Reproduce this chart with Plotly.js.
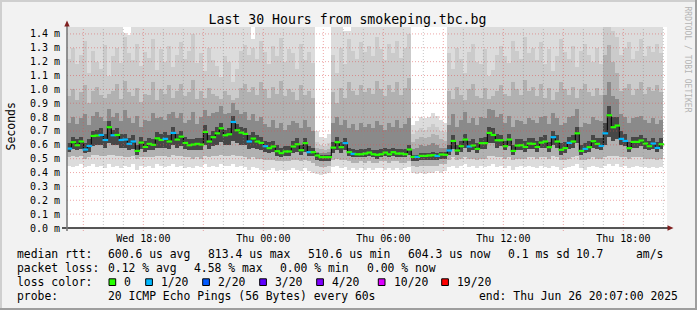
<!DOCTYPE html>
<html><head><meta charset="utf-8">
<script src="https://cdn.plot.ly/plotly-3.0.1.min.js"></script>
<style>html,body{margin:0;padding:0;background:#f2f2f2}#chart{width:697px;height:310px}</style>
</head><body><div id="chart"></div>
<script>
// ---- data (12-minute consolidated columns, ms) ----
const columnStart = '2025-06-25T14:12:00Z';
const columnMinutes = 12;
const median = [
0.573,0.619,0.597,0.624,0.566,0.592,0.664,0.667,0.671,0.635,
0.727,0.669,0.671,0.635,0.638,0.607,0.624,0.556,0.616,0.585,
0.607,0.600,0.647,0.635,0.643,0.624,0.686,0.638,0.659,0.614,
0.597,0.602,0.607,0.602,0.693,0.624,0.655,0.683,0.719,0.669,
0.676,0.765,0.705,0.688,0.679,0.624,0.645,0.624,0.614,0.590,
0.576,0.588,0.554,0.540,0.552,0.552,0.588,0.604,0.561,0.612,
0.547,0.547,0.523,0.511,0.511,0.511,0.580,0.619,0.583,0.612,
0.547,0.535,0.532,0.532,0.537,0.544,0.532,0.528,0.532,0.544,
0.532,0.547,0.537,0.537,0.532,0.566,0.513,0.513,0.520,0.520,
0.523,0.525,0.520,0.530,0.528,0.559,0.628,0.559,0.590,0.638,
0.588,0.595,0.571,0.612,0.612,0.686,0.671,0.633,0.633,0.590,
0.638,0.556,0.595,0.597,0.585,0.609,0.607,0.585,0.616,0.624,
0.583,0.655,0.624,0.564,0.576,0.614,0.624,0.683,0.556,0.571,
0.583,0.626,0.607,0.592,0.683,0.813,0.727,0.739,0.643,0.628,
0.576,0.621,0.621,0.631,0.609,0.590,0.609,0.578,0.604];
const lossClass = [
1,0,0,0,1,1,0,0,1,1, 0,1,0,1,1,1,1,0,0,0, 0,0,0,0,1,0,1,0,0,0, 0,0,0,0,0,0,0,0,0,0,
0,1,0,0,0,1,0,0,0,1, 0,0,0,0,0,0,0,0,0,0, 1,0,0,0,0,0,0,0,0,1, 0,1,0,0,0,0,0,0,0,0,
0,0,0,0,0,0,0,1,0,0, 0,0,1,0,0,1,0,0,0,0, 1,0,0,0,0,0,0,0,0,0, 0,0,0,0,0,0,0,0,0,0,
0,1,0,0,0,1,0,0,0,1, 0,0,0,1,1,0,0,0,1,1, 0,0,0,0,0,0,1,1,0];
const pingMax = [
1.5,1.5,1.5,1.5,1.5,1.5,1.5,1.5,1.5,1.5, 1.5,1.5,1.5,1.5,1.41,1.39,1.5,1.5,1.5,1.5,
1.5,1.5,1.5,1.5,1.5,1.5,1.5,1.5,1.5,1.5, 1.5,1.5,1.5,1.5,1.5,1.5,1.5,1.5,1.5,1.5,
1.5,1.5,1.5,1.5,1.5,1.5,1.36,1.5,1.5,1.5, 1.5,1.5,1.5,1.5,1.5,1.5,1.5,1.5,1.5,1.5,
1.5,1.5,0.70,0.66,0.65,0.68,1.5,1.5,1.5,1.42, 1.42,1.5,1.5,1.5,1.5,1.5,1.5,1.5,1.5,1.5,
1.5,1.5,1.5,1.5,1.5,1.5,0.74,0.77,0.80,0.79, 0.80,0.83,0.81,0.78,0.76,1.5,1.5,1.5,1.5,1.5,
1.5,1.5,1.5,1.5,1.5,1.5,1.5,1.5,1.5,1.5, 1.5,1.5,1.5,1.5,1.5,1.5,1.5,1.5,1.5,1.5,
1.5,1.5,1.5,1.5,1.5,1.5,1.5,1.5,1.5,1.5, 1.5,1.5,1.5,1.5,1.5,1.5,1.5,1.5,1.5,1.5,
1.5,1.5,1.5,1.5,1.5,1.5,1.5,1.5,1.5];
const ping18 = [
1.22,1.30,1.18,1.25,1.35,1.12,1.28,1.20,1.15,1.32, 1.10,1.24,1.30,1.19,1.38,1.26,1.21,1.33,1.17,1.27,
1.23,1.36,1.14,1.29,1.20,1.31,1.16,1.25,1.34,1.22, 1.28,1.40,1.19,1.26,1.13,1.30,1.21,1.17,1.09,1.24,
1.20,1.05,1.15,1.28,1.32,1.25,1.30,1.22,1.35,1.27, 1.18,1.31,1.24,1.37,1.20,1.29,1.26,1.15,1.33,1.21,
1.27,1.19,0.62,0.60,0.59,0.61,1.25,1.12,1.30,1.18, 1.36,1.28,1.22,1.34,1.27,1.31,1.24,1.38,1.29,1.21,
1.33,1.26,1.35,1.23,1.30,1.40,0.68,0.70,0.72,0.71, 0.73,0.75,0.73,0.70,0.69,1.26,1.15,1.30,1.22,1.12,
1.27,1.33,1.20,1.18,1.29,1.10,1.14,1.25,1.31,1.24, 1.19,1.35,1.28,1.22,1.38,1.26,1.30,1.21,1.34,1.18,
1.29,1.13,1.24,1.36,1.27,1.22,1.31,1.16,1.28,1.33, 1.25,1.20,1.30,1.18,1.45,1.50,1.42,1.38,1.25,1.30,
1.34,1.22,1.28,1.36,1.24,1.31,1.27,1.33,1.26];
const ping16 = [
0.95,1.00,0.92,0.98,1.03,0.90,0.99,1.02,0.96,0.94, 0.97,0.99,1.04,0.93,1.06,0.98,0.95,1.01,0.91,0.97,
0.96,1.05,0.92,1.00,0.97,1.03,0.94,0.99,1.04,0.95, 0.98,1.07,0.93,0.99,0.94,1.01,0.97,0.95,0.93,0.99,
0.96,0.92,0.94,1.01,1.04,0.98,1.02,0.96,1.05,1.00, 0.94,1.02,0.97,1.06,0.95,1.00,0.98,0.92,1.03,0.96,
0.99,0.94,0.58,0.57,0.56,0.57,0.98,0.90,1.01,0.94, 1.05,0.99,0.96,1.03,0.98,1.01,0.97,1.06,1.00,0.95,
1.03,0.98,1.05,0.96,1.01,1.08,0.62,0.64,0.66,0.65, 0.66,0.68,0.67,0.64,0.63,0.99,0.93,1.02,0.96,0.92,
1.00,1.04,0.95,0.94,1.01,0.93,0.95,0.99,1.03,0.97, 0.95,1.05,1.00,0.96,1.07,0.99,1.02,0.95,1.04,0.94,
1.01,0.92,0.98,1.05,1.00,0.96,1.02,0.94,1.00,1.04, 0.98,0.95,1.01,0.96,1.25,1.32,1.20,1.12,0.99,1.01,
1.04,0.96,1.00,1.05,0.97,1.02,0.99,1.03,0.98];
const ping14 = [
0.76,0.80,0.75,0.79,0.82,0.74,0.81,0.84,0.80,0.77, 0.86,0.80,0.83,0.77,0.85,0.79,0.76,0.81,0.73,0.78,
0.77,0.83,0.79,0.80,0.78,0.82,0.84,0.79,0.83,0.76, 0.78,0.84,0.75,0.80,0.85,0.81,0.83,0.84,0.88,0.82,
0.83,0.90,0.85,0.82,0.84,0.78,0.82,0.77,0.80,0.75, 0.73,0.78,0.72,0.76,0.71,0.74,0.77,0.76,0.72,0.78,
0.73,0.70,0.55,0.54,0.54,0.55,0.76,0.80,0.74,0.78, 0.72,0.75,0.71,0.76,0.73,0.75,0.72,0.77,0.74,0.71,
0.76,0.73,0.78,0.72,0.75,0.79,0.57,0.58,0.60,0.59, 0.60,0.61,0.60,0.58,0.58,0.74,0.82,0.73,0.78,0.84,
0.76,0.79,0.74,0.80,0.79,0.86,0.85,0.80,0.82,0.76, 0.81,0.73,0.78,0.77,0.75,0.79,0.78,0.76,0.80,0.81,
0.75,0.83,0.79,0.74,0.76,0.80,0.81,0.86,0.73,0.76, 0.75,0.80,0.78,0.77,0.96,1.05,0.95,0.93,0.82,0.80,
0.76,0.79,0.80,0.81,0.78,0.76,0.79,0.75,0.78];
const ping12 = [
0.61,0.66,0.64,0.66,0.61,0.64,0.70,0.71,0.72,0.68, 0.77,0.71,0.72,0.68,0.68,0.65,0.67,0.60,0.66,0.63,
0.65,0.64,0.69,0.68,0.69,0.67,0.73,0.68,0.70,0.66, 0.64,0.64,0.65,0.65,0.74,0.67,0.70,0.73,0.76,0.71,
0.72,0.81,0.75,0.73,0.72,0.67,0.69,0.67,0.66,0.63, 0.62,0.63,0.60,0.58,0.59,0.59,0.63,0.65,0.60,0.65,
0.59,0.58,0.54,0.53,0.53,0.53,0.62,0.66,0.62,0.65, 0.58,0.57,0.56,0.57,0.57,0.58,0.56,0.56,0.57,0.58,
0.57,0.58,0.57,0.57,0.57,0.60,0.53,0.53,0.54,0.54, 0.54,0.55,0.54,0.55,0.55,0.60,0.67,0.60,0.63,0.68,
0.63,0.64,0.61,0.65,0.66,0.73,0.72,0.68,0.67,0.63, 0.68,0.60,0.64,0.64,0.63,0.65,0.65,0.63,0.66,0.67,
0.62,0.70,0.67,0.61,0.62,0.66,0.67,0.73,0.60,0.61, 0.63,0.67,0.65,0.65,0.76,0.88,0.80,0.80,0.70,0.68,
0.62,0.66,0.66,0.67,0.65,0.63,0.65,0.62,0.65];
const ping9 = [
0.55,0.57,0.56,0.57,0.54,0.55,0.59,0.60,0.60,0.58, 0.61,0.60,0.60,0.58,0.58,0.56,0.57,0.53,0.57,0.55,
0.56,0.56,0.58,0.58,0.58,0.57,0.60,0.58,0.59,0.57, 0.56,0.56,0.56,0.56,0.60,0.57,0.59,0.60,0.62,0.60,
0.60,0.63,0.61,0.60,0.60,0.57,0.58,0.57,0.56,0.55, 0.54,0.55,0.52,0.51,0.52,0.52,0.54,0.55,0.53,0.55,
0.52,0.52,0.49,0.48,0.48,0.48,0.54,0.56,0.54,0.56, 0.52,0.51,0.51,0.51,0.51,0.52,0.51,0.50,0.51,0.52,
0.51,0.52,0.51,0.51,0.51,0.53,0.48,0.48,0.49,0.49, 0.49,0.49,0.49,0.50,0.50,0.53,0.57,0.53,0.55,0.58,
0.55,0.56,0.54,0.57,0.57,0.61,0.61,0.58,0.59,0.56, 0.59,0.53,0.56,0.56,0.55,0.57,0.57,0.55,0.58,0.58,
0.55,0.60,0.58,0.53,0.54,0.57,0.58,0.61,0.53,0.54, 0.55,0.58,0.57,0.56,0.60,0.66,0.63,0.64,0.60,0.59,
0.55,0.58,0.58,0.59,0.57,0.56,0.57,0.55,0.57];
const ping5 = [
0.51,0.52,0.51,0.52,0.50,0.51,0.53,0.53,0.52,0.52, 0.53,0.53,0.52,0.52,0.51,0.51,0.52,0.50,0.51,0.51,
0.51,0.51,0.52,0.52,0.52,0.51,0.53,0.52,0.52,0.51, 0.51,0.50,0.51,0.50,0.52,0.51,0.52,0.52,0.53,0.52,
0.52,0.53,0.52,0.52,0.51,0.50,0.51,0.50,0.50,0.49, 0.49,0.49,0.48,0.48,0.48,0.48,0.49,0.49,0.48,0.49,
0.48,0.47,0.45,0.44,0.44,0.45,0.49,0.50,0.49,0.49, 0.48,0.47,0.47,0.48,0.47,0.48,0.47,0.47,0.48,0.48,
0.47,0.48,0.48,0.47,0.47,0.48,0.45,0.44,0.45,0.45, 0.45,0.45,0.45,0.46,0.46,0.49,0.51,0.49,0.50,0.51,
0.50,0.50,0.49,0.50,0.50,0.52,0.52,0.51,0.51,0.50, 0.51,0.49,0.50,0.50,0.50,0.51,0.51,0.50,0.51,0.51,
0.50,0.52,0.51,0.49,0.49,0.50,0.51,0.52,0.49,0.49, 0.50,0.51,0.50,0.50,0.51,0.52,0.52,0.52,0.51,0.51,
0.50,0.51,0.51,0.51,0.50,0.50,0.50,0.49,0.50];
const pingMin = [
0.45,0.44,0.45,0.46,0.44,0.45,0.46,0.44,0.45,0.43, 0.46,0.44,0.45,0.43,0.45,0.44,0.46,0.42,0.45,0.44,
0.45,0.43,0.46,0.45,0.44,0.45,0.46,0.44,0.45,0.43, 0.44,0.43,0.45,0.44,0.46,0.44,0.45,0.44,0.46,0.45,
0.45,0.46,0.44,0.45,0.44,0.42,0.44,0.43,0.42,0.41, 0.42,0.43,0.41,0.42,0.41,0.42,0.43,0.42,0.41,0.43,
0.41,0.40,0.39,0.38,0.39,0.40,0.44,0.45,0.43,0.44, 0.42,0.43,0.42,0.43,0.42,0.43,0.42,0.43,0.43,0.42,
0.43,0.42,0.43,0.42,0.43,0.44,0.40,0.39,0.40,0.39, 0.40,0.40,0.41,0.40,0.41,0.44,0.45,0.43,0.45,0.46,
0.44,0.45,0.43,0.45,0.44,0.45,0.46,0.44,0.45,0.43, 0.45,0.42,0.44,0.45,0.44,0.45,0.44,0.43,0.45,0.44,
0.43,0.45,0.44,0.42,0.43,0.44,0.45,0.46,0.43,0.42, 0.44,0.45,0.44,0.43,0.45,0.46,0.45,0.46,0.44,0.45,
0.43,0.44,0.45,0.44,0.44,0.43,0.44,0.43,0.44];

const yTickVals = [0.0,0.1,0.2,0.3,0.4,0.5,0.6,0.7,0.8,0.9,1.0,1.1,1.2,1.3,1.4];
const yTickText = ['0.0 m','0.1 m','0.2 m','0.3 m','0.4 m','0.5 m','0.6 m','0.7 m','0.8 m','0.9 m','1.0 m','1.1 m','1.2 m','1.3 m','1.4 m'];
const xTickVals = ['2025-06-25 18:00','2025-06-26 00:00','2025-06-26 06:00','2025-06-26 12:00','2025-06-26 18:00'];
const xTickText = ['Wed 18:00','Thu 00:00','Thu 06:00','Thu 12:00','Thu 18:00'];
const lossColors = ['#26ff00','#00b8ff','#0059ff','#5e00ff','#7e00ff','#dd00ff','#ff0000'];
const lossLabels = ['0','1/20','2/20','3/20','4/20','10/20','19/20'];

// ---- geometry helpers ----
const L = 67, R = 667, TOP = 27, BOT = 228;
const px = x => (x - L) / (R - L);
const py = y => (BOT - y) / (BOT - TOP);
const ds = ms => new Date(ms).toISOString().replace('T',' ').replace('Z','');
const t0 = Date.parse(columnStart), stepMs = columnMinutes * 60000;
const xc = median.map((_, k) => ds(t0 + k * stepMs + stepMs / 2));
const xRange = [ds(Date.parse('2025-06-25T14:11:00Z')), ds(Date.parse('2025-06-26T20:11:00Z'))];

const mono = 'DejaVu Sans Mono';
const bands = [
  {lo: pingMin, hi: pingMax, color: '#dcdcdc'},
  {lo: ping5, hi: ping18, color: '#cbcbcb'},
  {lo: ping5, hi: ping16, color: '#b1b1b1'},
  {lo: ping9, hi: ping14, color: '#8a8a8a'},
  {lo: ping9, hi: ping12, color: '#474747'}
];
const traces = bands.map(b => ({
  type: 'bar', x: xc, base: b.lo, y: b.hi.map((h, i) => h - b.lo[i]),
  width: stepMs, marker: {color: b.color, line: {width: 0}}, hoverinfo: 'skip'
}));
traces.push({type: 'scatter', mode: 'lines', x: xc, y: median,
  line: {shape: 'hvh', color: '#000000', width: 1}, hoverinfo: 'skip'});
traces.push({type: 'scatter', mode: 'markers', x: xc, y: median,
  marker: {symbol: 'line-ew', size: 4, line: {width: 2.2, color: lossClass.map(c => lossColors[c])}},
  hoverinfo: 'skip'});

// ---- grid & decorations ----
const shapes = [];
const MGRID = 'rgba(222,79,79,0.5)', GRID = 'rgba(143,143,143,0.5)';
yTickVals.forEach(v => { if (v > 0) shapes.push({type:'line', layer:'above', xref:'paper', yref:'y', x0:0, x1:0.997, y0:v, y1:v, line:{color:MGRID, width:1, dash:'1px,2px'}}); });
for (let h = Date.parse('2025-06-25T15:00:00Z'); h <= Date.parse('2025-06-26T20:00:00Z'); h += 3600000) {
  const major = new Date(h).getUTCHours() % 3 === 0;
  shapes.push({type:'line', layer:'above', xref:'x', yref:'paper', x0:ds(h), x1:ds(h), y0: major ? py(231) : 0, y1:1,
    line:{color: major ? MGRID : GRID, width:1, dash:'1px,2px'}});
}
// axes
shapes.push({type:'line', layer:'above', xref:'paper', yref:'paper', x0:px(62), x1:px(668), y0:0, y1:0, line:{color:'#1f1f1f', width:1.3}});
shapes.push({type:'line', layer:'above', xref:'paper', yref:'paper', x0:0, x1:0, y0:py(231), y1:py(23), line:{color:'#7a7a7a', width:1.6}});
const ARROW = '#7f1f1f';
shapes.push({type:'path', layer:'above', xref:'paper', yref:'paper', fillcolor:ARROW, line:{width:0},
  path:`M ${px(64.3)} ${py(26.5)} L ${px(67)} ${py(20.5)} L ${px(69.7)} ${py(26.5)} Z`});
shapes.push({type:'path', layer:'above', xref:'paper', yref:'paper', fillcolor:ARROW, line:{width:0},
  path:`M ${px(667.5)} ${py(225.3)} L ${px(673.5)} ${py(228)} L ${px(667.5)} ${py(230.7)} Z`});
// frame (shade A top/left, shade B bottom/right)
shapes.push({type:'rect', xref:'paper', yref:'paper', x0:px(0), x1:px(697), y0:py(0), y1:py(2), fillcolor:'#cfcfcf', line:{width:0}});
shapes.push({type:'rect', xref:'paper', yref:'paper', x0:px(0), x1:px(2), y0:py(0), y1:py(310), fillcolor:'#cfcfcf', line:{width:0}});
shapes.push({type:'rect', xref:'paper', yref:'paper', x0:px(0), x1:px(697), y0:py(308), y1:py(310), fillcolor:'#9e9e9e', line:{width:0}});
shapes.push({type:'rect', xref:'paper', yref:'paper', x0:px(695), x1:px(697), y0:py(0), y1:py(310), fillcolor:'#9e9e9e', line:{width:0}});

// legend boxes
const boxX = [109, 145.7, 202.7, 259.7, 316.7, 378.3, 441.7];
const labX = [123.3, 160, 217.3, 274, 331, 392.6, 456];
boxX.forEach((x, i) => shapes.push({type:'rect', xref:'paper', yref:'paper', x0:px(x), x1:px(x+6.7), y0:py(285.5), y1:py(278.8),
  fillcolor: lossColors[i], line:{color:'#000', width:1}}));

const ann = [];
const txt = (x, y, s, extra) => ann.push(Object.assign({xref:'paper', yref:'paper', x:px(x), y:py(y), text:s, showarrow:false,
  xanchor:'left', yanchor:'middle', borderpad:0, font:{family:mono, size:11.4, color:'#000'}}, extra || {}));
txt(16, 254.3, 'median rtt:'); txt(107.3, 254.3, '600.6 us avg'); txt(207.3, 254.3, '813.4 us max');
txt(306.7, 254.3, '510.6 us min'); txt(407.3, 254.3, '604.3 us now'); txt(507.3, 254.3, '0.1 ms sd');
txt(574.5, 254.3, '10.7'); txt(635, 254.3, 'am/s');
txt(16, 268.3, 'packet loss:'); txt(107.3, 268.3, '0.12 % avg'); txt(192.7, 268.3, '4.58 % max');
txt(279.3, 268.3, '0.00 % min'); txt(366, 268.3, '0.00 % now');
txt(16, 282.3, 'loss color:');
lossLabels.forEach((s, i) => txt(labX[i], 282.3, s));
txt(16, 296, 'probe:'); txt(107.3, 296, '20 ICMP Echo Pings (56 Bytes) every 60s');
txt(478.3, 296, 'end: Thu Jun 26 20:07:00 2025');
ann.push({xref:'paper', yref:'paper', x:px(10.5), y:py(127), text:'Seconds', textangle:-90, showarrow:false,
  xanchor:'center', yanchor:'middle', font:{family:mono, size:11.5, color:'#000'}});
ann.push({xref:'paper', yref:'paper', x:px(687.5), y:py(59), text:'RRDTOOL / TOBI OETIKER', textangle:90, showarrow:false,
  xanchor:'center', yanchor:'middle', font:{family:mono, size:8, color:'#b4b4b4'}});

const layout = {
  width: 697, height: 310, autosize: false,
  margin: {l: L, r: 697 - R, t: TOP, b: 310 - BOT, pad: 0},
  paper_bgcolor: '#f2f2f2', plot_bgcolor: '#ffffff',
  showlegend: false, barmode: 'overlay', bargap: 0,
  title: {text: 'Last 30 Hours from smokeping.tbc.bg', font: {family: mono, size: 13.2, color: '#000'},
    xref: 'container', x: 347.5 / 697, xanchor: 'center', yref: 'container', y: 1 - 19.5 / 310, yanchor: 'middle'},
  xaxis: {type: 'date', range: xRange, showgrid: false, zeroline: false, showline: false,
    tickmode: 'array', tickvals: xTickVals, ticktext: xTickText, ticks: '', ticklabelstandoff: 3,
    tickfont: {family: mono, size: 10, color: '#000'}, fixedrange: true},
  yaxis: {range: [0, 1.45], showgrid: false, zeroline: false, showline: false,
    tickmode: 'array', tickvals: yTickVals, ticktext: yTickText, ticks: '', ticklabelstandoff: 6,
    tickfont: {family: mono, size: 10, color: '#000'}, fixedrange: true},
  shapes: shapes, annotations: ann
};
Plotly.newPlot('chart', traces, layout, {displayModeBar: false, staticPlot: true});
</script>
</body></html>
